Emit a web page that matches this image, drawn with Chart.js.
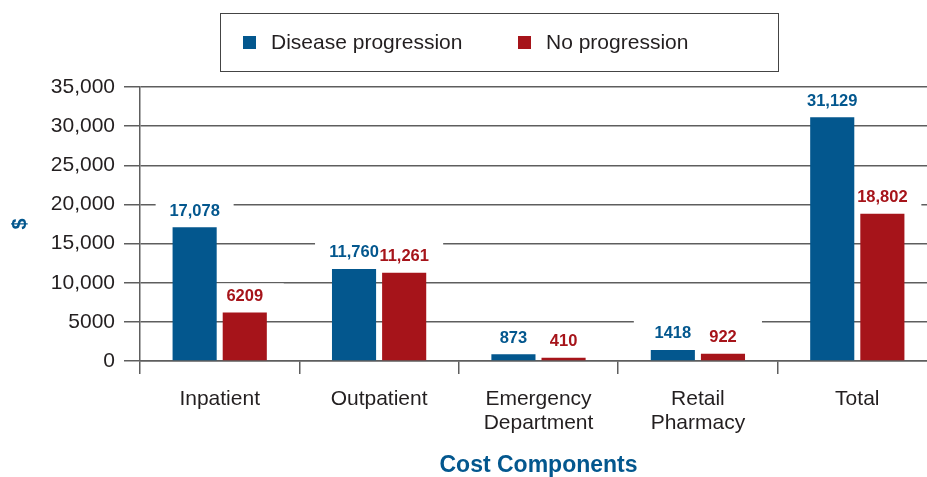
<!DOCTYPE html>
<html>
<head>
<meta charset="utf-8">
<script src="https://cdn.jsdelivr.net/npm/chart.js@4.4.0/dist/chart.umd.min.js"></script>
<style>
  html, body { margin: 0; padding: 0; background: #fff; overflow: hidden; }
  #wrap { width: 937px; height: 477px; }
</style>
</head>
<body>
<div id="wrap"><canvas id="costChart" width="937" height="477"></canvas></div>
<script>
const categories = ['Inpatient', 'Outpatient', ['Emergency', 'Department'], ['Retail', 'Pharmacy'], 'Total'];
const progression = [17078, 11760, 873, 1418, 31129];
const noProgression = [6209, 11261, 410, 922, 18802];
const seriesNames = ['Disease progression', 'No progression'];
const yTicks = [0, 5000, 10000, 15000, 20000, 25000, 30000, 35000];

const BLUE = '#03578e';
const RED = '#a6141a';
const INK = '#231f20';
const GRID = '#5e5e5e';

function fmt(v) {
    return v >= 10000 ? v.toLocaleString('en-US') : String(v);
}

// white patches behind value labels (merged when the pair sits at similar height),
// then the labels on top of the bars
const valueLabels = {
    id: 'valueLabels',
    beforeDatasetsDraw(chart) {
        const ctx = chart.ctx;
        const a = chart.getDatasetMeta(0).data;
        const b = chart.getDatasetMeta(1).data;
        ctx.save();
        ctx.fillStyle = '#fff';
        a.forEach((barA, j) => {
            const barB = b[j];
            const ya = barA.y - 11.5, yb = barB.y - 11.5;
            if (Math.abs(ya - yb) < 25) {
                const top = Math.min(ya, yb) - 17.5;
                ctx.fillRect(barA.x - 39, top, barB.x - barA.x + 78, Math.max(ya, yb) + 4.5 - top);
            } else {
                ctx.fillRect(barA.x - 39, ya - 17.5, 78, 22);
                ctx.fillRect(barB.x - 39, yb - 17.5, 78, 22);
            }
        });
        ctx.restore();
    },
    afterDatasetsDraw(chart) {
        const ctx = chart.ctx;
        ctx.save();
        ctx.font = 'bold 16.5px "Liberation Sans", Arial, sans-serif';
        ctx.textAlign = 'center';
        ctx.textBaseline = 'alphabetic';
        chart.data.datasets.forEach((ds, i) => {
            ctx.fillStyle = ds.backgroundColor;
            chart.getDatasetMeta(i).data.forEach((bar, j) => {
                ctx.fillText(fmt(ds.data[j]), bar.x, bar.y - 11.5);
            });
        });
        ctx.restore();
    }
};

// boxed legend at the top
const boxLegend = {
    id: 'boxLegend',
    afterDraw(chart) {
        const ctx = chart.ctx;
        ctx.save();
        ctx.strokeStyle = '#444';
        ctx.lineWidth = 1;
        ctx.strokeRect(220.5, 13.5, 558, 58);
        ctx.font = '21px "Liberation Sans", Arial, sans-serif';
        ctx.textBaseline = 'middle';
        const xs = [243, 518];
        chart.data.datasets.forEach((ds, i) => {
            ctx.fillStyle = ds.backgroundColor;
            ctx.fillRect(xs[i], 36, 13, 13);
            ctx.fillStyle = INK;
            ctx.fillText(ds.label, xs[i] + 28, 43);
        });
        ctx.restore();
    }
};

const ctx = document.getElementById('costChart').getContext('2d');
const costChart = new Chart(ctx, {
    type: 'bar',
    data: {
        labels: categories,
        datasets: [
            {
                label: seriesNames[0],
                data: progression,
                backgroundColor: BLUE,
                categoryPercentage: 0.629,
                barPercentage: 0.88,
            },
            {
                label: seriesNames[1],
                data: noProgression,
                backgroundColor: RED,
                categoryPercentage: 0.629,
                barPercentage: 0.88,
            }
        ]
    },
    options: {
        responsive: false,
        animation: false,
        layout: { padding: { top: 87, left: 0, right: 0, bottom: 0 } },
        scales: {
            x: {
                afterFit(scale) { scale.height = 116; },
                grid: {
                    display: true,
                    drawOnChartArea: false,
                    color: GRID,
                    lineWidth: 1.5,
                    tickLength: 13,
                    offset: true,
                },
                border: { display: true, color: GRID, width: 1.5 },
                ticks: {
                    color: INK,
                    padding: 13,
                    maxRotation: 0,
                    autoSkip: false,
                    font: { family: '"Liberation Sans", Arial, sans-serif', size: 21, lineHeight: 24 / 21 },
                },
                title: {
                    display: true,
                    text: 'Cost Components',
                    color: BLUE,
                    padding: { top: 0, bottom: 0 },
                    font: { family: '"Liberation Sans", Arial, sans-serif', size: 23, weight: 'bold', lineHeight: 1 },
                }
            },
            y: {
                min: 0,
                max: 35000,
                afterFit(scale) { scale.width = 140; },
                afterBuildTicks(scale) { scale.ticks = yTicks.map(v => ({ value: v })); },
                grid: {
                    color: GRID,
                    lineWidth: 1.5,
                    tickLength: 16,
                },
                border: { display: true, color: GRID, width: 1.5 },
                ticks: {
                    color: INK,
                    padding: 9,
                    callback: (v) => fmt(v),
                    font: { family: '"Liberation Sans", Arial, sans-serif', size: 21 },
                },
                title: {
                    display: true,
                    text: '$',
                    color: BLUE,
                    padding: { top: 10, bottom: 0 },
                    font: { family: '"Liberation Sans", Arial, sans-serif', size: 20, weight: 'bold', lineHeight: 1 },
                }
            }
        },
        plugins: {
            legend: { display: false },
            tooltip: { enabled: false },
        }
    },
    plugins: [valueLabels, boxLegend]
});
</script>
</body>
</html>
